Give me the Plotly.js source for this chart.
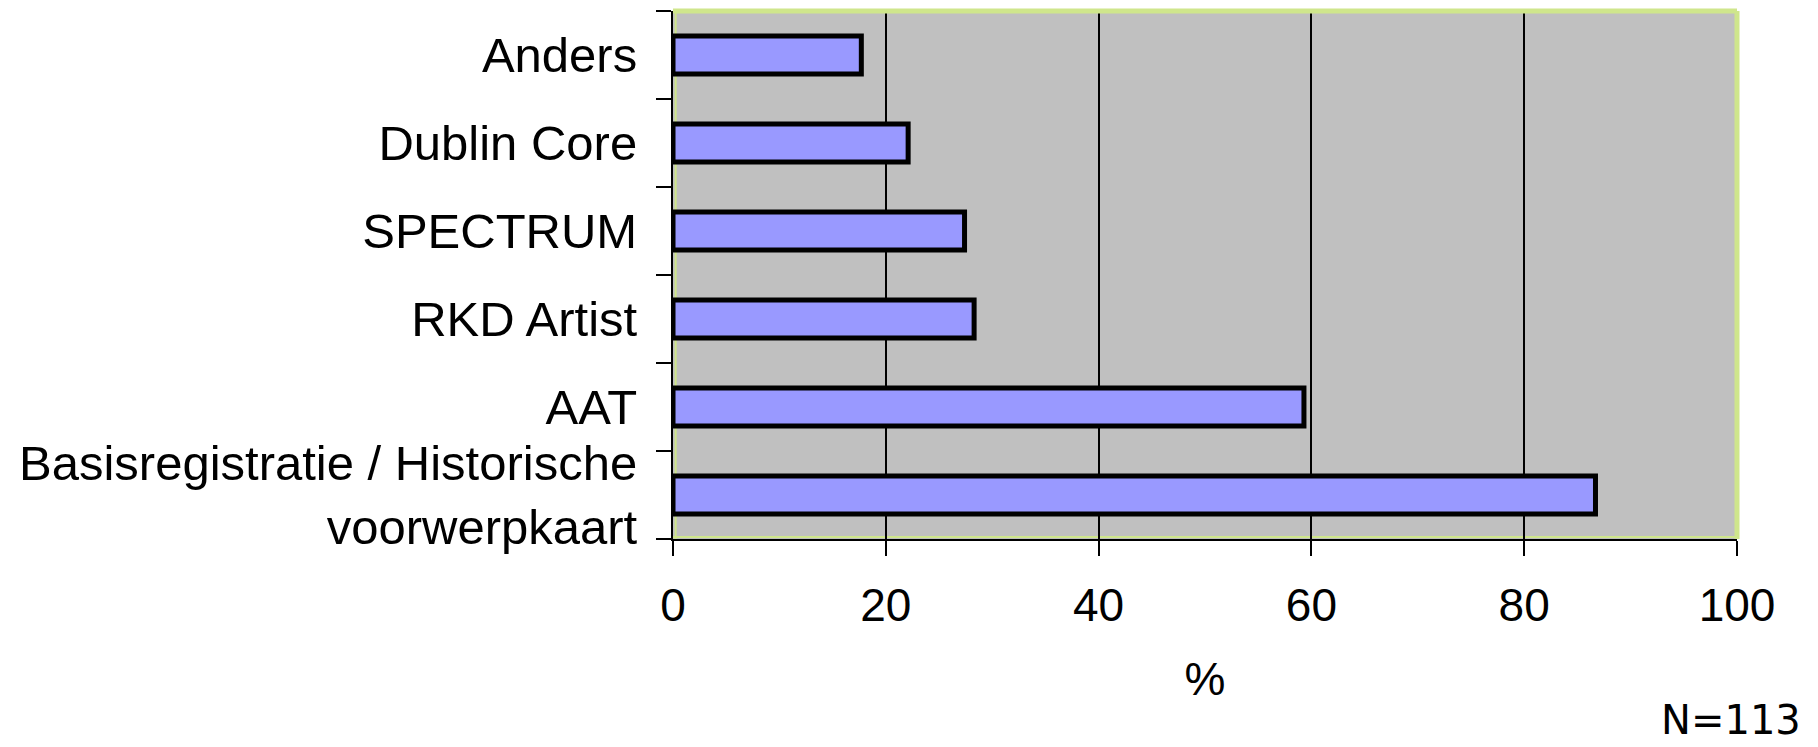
<!DOCTYPE html>
<html>
<head>
<meta charset="utf-8">
<script src="https://cdn.plot.ly/plotly-3.0.1.min.js"></script>
<style>html,body{margin:0;padding:0;background:#fff;}#chart{width:1818px;height:747px;}</style>
</head>
<body>
<div id="chart"></div>
<script>
// Categories listed bottom to top
const categories = [
  "Basisregistratie / Historische<br>voorwerpkaart",
  "AAT",
  "RKD Artist",
  "SPECTRUM",
  "Dublin Core",
  "Anders"
];
const percentages = [86.7, 59.3, 28.3, 27.4, 22.1, 17.7];
const xTickValues = [0, 20, 40, 60, 80, 100];
const xAxisTitle = "%";
const noteText = "N=113";

const trace = {
  type: "bar",
  orientation: "h",
  y: categories,
  x: percentages,
  marker: { color: "#9999FF", line: { color: "#000000", width: 5 } },
  hoverinfo: "skip"
};

const green = "#CFE68C";
const layout = {
  width: 1818,
  height: 747,
  margin: { l: 673, r: 81, t: 11, b: 208, pad: 0 },
  paper_bgcolor: "#FFFFFF",
  plot_bgcolor: "#C0C0C0",
  bargap: 0.57,
  showlegend: false,
  font: { family: "Liberation Sans, Arial, sans-serif", color: "#000000", size: 47 },
  xaxis: {
    range: [0, 100],
    tickvals: xTickValues,
    ticktext: xTickValues.map(String),
    showgrid: true,
    gridcolor: "#000000",
    gridwidth: 2,
    zeroline: false,
    showline: true,
    linecolor: "#000000",
    linewidth: 2,
    ticks: "outside",
    ticklen: 15,
    tickwidth: 2,
    tickcolor: "#000000",
    ticklabelstandoff: 10,
    tickfont: { size: 46 },
    title: { text: xAxisTitle, font: { size: 46 }, standoff: 33 },
    automargin: false,
    fixedrange: true
  },
  yaxis: {
    type: "category",
    categoryorder: "array",
    categoryarray: categories,
    tickson: "boundaries",
    showgrid: false,
    zeroline: false,
    showline: true,
    linecolor: "#000000",
    linewidth: 2,
    ticks: "outside",
    ticklen: 15,
    tickwidth: 2,
    tickcolor: "#000000",
    ticklabelstandoff: 24,
    tickfont: { size: 49 },
    automargin: false,
    fixedrange: true
  },
  shapes: [
    { type: "line", xref: "x domain", yref: "y domain", x0: 0, x1: 1, y0: 1, y1: 1,
      line: { color: green, width: 5 }, layer: "above" },
    { type: "line", xref: "x domain", yref: "y domain", x0: 1, x1: 1, y0: 0, y1: 1,
      line: { color: green, width: 5 }, layer: "above" },
    { type: "line", xref: "x domain", yref: "y domain", x0: 0.0025, x1: 0.0025, y0: 0, y1: 1,
      line: { color: green, width: 2 }, layer: "below" },
    { type: "line", xref: "x domain", yref: "y domain", x0: 0, x1: 1, y0: 0.004, y1: 0.004,
      line: { color: green, width: 2 }, layer: "below" }
  ],
  annotations: [
    { text: noteText, xref: "paper", yref: "paper", x: 1.0608, y: -0.388,
      xanchor: "right", yanchor: "bottom", showarrow: false, borderpad: 0,
      font: { family: "DejaVu Sans, Verdana, sans-serif", size: 40, color: "#000000" } }
  ]
};

Plotly.newPlot("chart", [trace], layout, { staticPlot: true, displayModeBar: false });
</script>
</body>
</html>
